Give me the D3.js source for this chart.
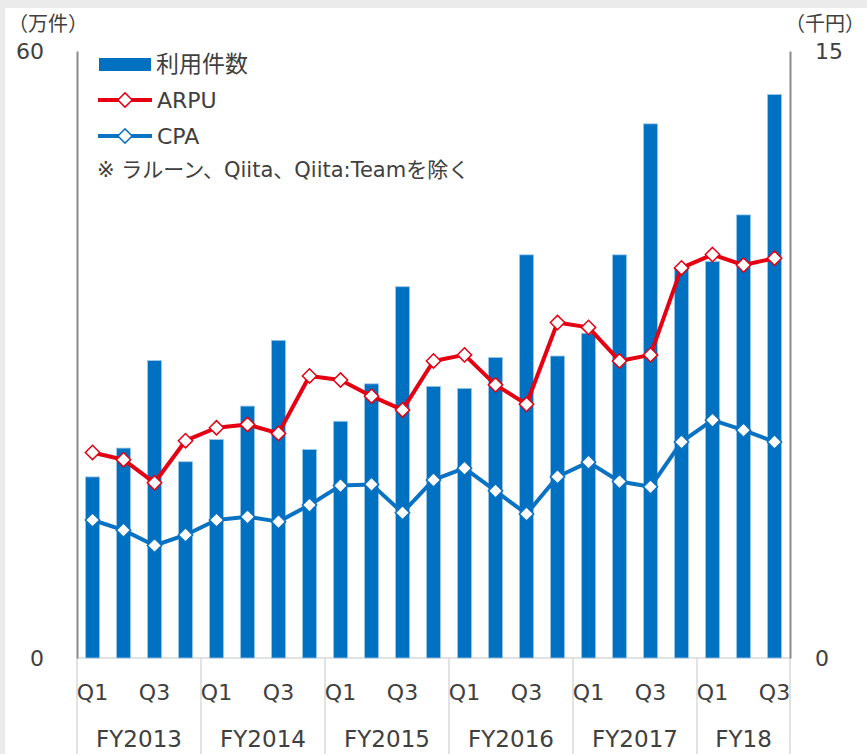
<!DOCTYPE html>
<html>
<head>
  <meta charset="utf-8">
  <script src="https://cdnjs.cloudflare.com/ajax/libs/d3/7.8.5/d3.min.js"></script>
  <style>
    body {
      margin: 0;
      background: #ebebeb;
      font-family: "DejaVu Sans", "Noto Sans CJK JP", sans-serif;
    }
    #chart {
      position: absolute;
      left: 0;
      top: 0;
    }
    text {
      fill: #404040;
    }
  </style>
</head>
<body>
  <div id="chart"></div>

  <script>
    // Fiscal years and quarters on the x axis
    const years = ["FY2013", "FY2014", "FY2015", "FY2016", "FY2017", "FY18"];
    const quarters = ["Q1", "Q2", "Q3", "Q4"];
    const shownQuarters = ["Q1", "Q3"];

    // 利用件数 (万件), left axis
    const usage = [17.9, 20.75, 29.4, 19.4, 21.6, 24.9, 31.4, 20.6, 23.4, 27.1, 36.7, 26.85,
                   26.65, 29.7, 39.85, 29.85, 32.1, 39.85, 52.8, 38.6, 39.2, 43.8, 55.7];
    // ARPU (千円), right axis
    const arpu = [5.08, 4.90, 4.33, 5.37, 5.69, 5.77, 5.55, 6.97, 6.87, 6.47, 6.13, 7.34,
                  7.49, 6.75, 6.27, 8.29, 8.17, 7.34, 7.49, 9.64, 9.97, 9.71, 9.88];
    // CPA (千円), right axis
    const cpa = [3.41, 3.16, 2.78, 3.04, 3.41, 3.49, 3.37, 3.78, 4.26, 4.29, 3.59, 4.40,
                 4.69, 4.13, 3.56, 4.48, 4.84, 4.36, 4.23, 5.34, 5.88, 5.63, 5.34];

    const leftTicks = [0, 60];
    const rightTicks = [0, 15];

    // build the period list: FY18 only has three quarters
    const periods = [];
    years.forEach(y => {
      quarters.forEach(q => {
        if (periods.length < usage.length) periods.push({ year: y, q: q, id: y + "-" + q });
      });
    });

    const width = 867;
    const height = 754;
    const plotL = 77, plotR = 790, plotT = 51, plotB = 658;

    const svg = d3.select("#chart")
      .append("svg")
      .attr("width", width)
      .attr("height", height);

    // white panel inside the gray frame
    svg.append("rect")
      .attr("x", 5).attr("y", 8)
      .attr("width", width - 5).attr("height", height - 8)
      .attr("fill", "white");

    const x = d3.scaleBand()
      .domain(periods.map(d => d.id))
      .range([plotL, plotR])
      .paddingInner(0.55)
      .paddingOuter(0.275);

    const yL = d3.scaleLinear().domain([0, 60]).range([plotB, plotT]);
    const yR = d3.scaleLinear().domain([0, 15]).range([plotB, plotT]);

    const cx = i => x(periods[i].id) + x.bandwidth() / 2;

    // year separators below the baseline
    const step = x.step();
    const yearBounds = [];
    years.forEach((y, i) => yearBounds.push(plotL + i * 4 * step));
    yearBounds.push(plotR);
    svg.selectAll(".sep")
      .data(yearBounds)
      .enter()
      .append("line")
      .attr("x1", d => d).attr("x2", d => d)
      .attr("y1", plotB).attr("y2", height)
      .attr("stroke", "#d9d9d9")
      .attr("stroke-width", 1.5);

    svg.append("line")
      .attr("x1", plotL).attr("x2", plotR)
      .attr("y1", plotB).attr("y2", plotB)
      .attr("stroke", "#d9d9d9")
      .attr("stroke-width", 1.5);

    // bars
    svg.selectAll(".bar")
      .data(usage)
      .enter()
      .append("rect")
      .attr("x", (d, i) => x(periods[i].id))
      .attr("y", d => yL(d))
      .attr("width", x.bandwidth())
      .attr("height", d => plotB - yL(d))
      .attr("fill", "#0070c0")
      .attr("stroke", "#9cc8ec")
      .attr("stroke-width", 0.8);

    // axes
    const axL = svg.append("g")
      .attr("transform", `translate(${plotL},0)`)
      .call(d3.axisLeft(yL).tickValues(leftTicks).tickSize(0).tickPadding(33));
    const axR = svg.append("g")
      .attr("transform", `translate(${plotR},0)`)
      .call(d3.axisRight(yR).tickValues(rightTicks).tickSize(0).tickPadding(25));
    [axL, axR].forEach(ax => {
      ax.select(".domain").attr("stroke", "#8a8a8a").attr("stroke-width", 2);
      ax.selectAll("text")
        .style("font-family", "'DejaVu Sans', sans-serif")
        .style("font-size", "22px")
        .style("fill", "#404040");
    });

    const marker = d3.symbol(d3.symbolDiamond2, 130)();

    // lines with diamond markers
    function drawSeries(values, color) {
      const line = d3.line()
        .x((d, i) => cx(i))
        .y(d => yR(d));
      svg.append("path")
        .datum(values)
        .attr("d", line)
        .attr("fill", "none")
        .attr("stroke", color)
        .attr("stroke-width", 4)
        .attr("stroke-linejoin", "round");
      svg.selectAll(null)
        .data(values)
        .enter()
        .append("path")
        .attr("d", marker)
        .attr("transform", (d, i) => `translate(${cx(i)},${yR(d)})`)
        .attr("fill", "white")
        .attr("stroke", color)
        .attr("stroke-width", 1.5);
    }
    drawSeries(arpu, "#e50012");
    drawSeries(cpa, "#0a72c2");

    // x labels: Q1 / Q3 and fiscal years
    svg.selectAll(".qlab")
      .data(periods.filter(p => shownQuarters.includes(p.q)))
      .enter()
      .append("text")
      .attr("x", d => x(d.id) + x.bandwidth() / 2)
      .attr("y", 692)
      .attr("dy", "0.35em")
      .attr("text-anchor", "middle")
      .style("font-size", "22px")
      .text(d => d.q);

    svg.selectAll(".ylab")
      .data(years)
      .enter()
      .append("text")
      .attr("x", (d, i) => (yearBounds[i] + yearBounds[i + 1]) / 2)
      .attr("y", 739)
      .attr("dy", "0.35em")
      .attr("text-anchor", "middle")
      .style("font-size", "23px")
      .text(d => d);

    // unit labels
    svg.append("text")
      .attr("x", 8).attr("y", 24).attr("dy", "0.35em")
      .style("font-size", "20px")
      .text("（万件）");
    svg.append("text")
      .attr("x", 865).attr("y", 24).attr("dy", "0.35em")
      .attr("text-anchor", "end")
      .style("font-size", "20px")
      .text("（千円）");

    // legend
    const lg = svg.append("g");
    lg.append("rect")
      .attr("x", 99).attr("y", 58).attr("width", 52).attr("height", 13)
      .attr("fill", "#0070c0");
    lg.append("text").attr("x", 156).attr("y", 64).attr("dy", "0.35em")
      .style("font-size", "23px").text("利用件数");

    [["ARPU", "#e50012", 100], ["CPA", "#0a72c2", 136]].forEach(([name, color, ly]) => {
      lg.append("line")
        .attr("x1", 98).attr("x2", 152).attr("y1", ly).attr("y2", ly)
        .attr("stroke", color).attr("stroke-width", 4);
      lg.append("path")
        .attr("d", marker)
        .attr("transform", `translate(125,${ly})`)
        .attr("fill", "white")
        .attr("stroke", color)
        .attr("stroke-width", 1.5);
      lg.append("text").attr("x", 157).attr("y", ly).attr("dy", "0.35em")
        .style("font-size", "22px").text(name);
    });

    lg.append("text").attr("x", 97).attr("y", 170).attr("dy", "0.35em")
      .style("font-size", "21px")
      .text("※ ラルーン、Qiita、Qiita:Teamを除く");
  </script>
</body>
</html>
